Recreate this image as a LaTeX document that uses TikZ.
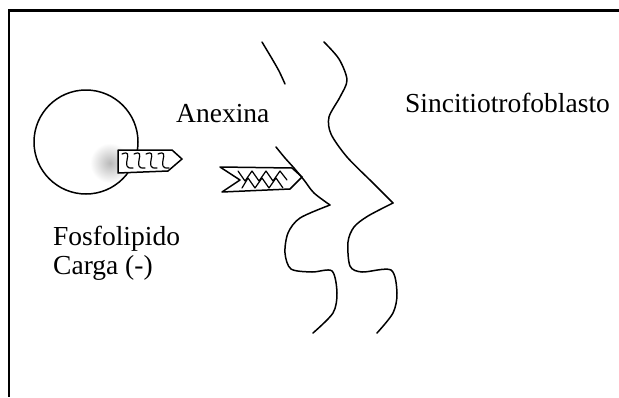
\documentclass[tikz,border=0pt]{standalone}
\usepackage{fontspec}
\setmainfont{Liberation Serif}
\begin{document}
\begin{tikzpicture}[x=1pt,y=-1pt,
  ink/.style={line width=1.5pt,line join=round,line cap=round},
  thin ink/.style={line width=1.2pt,line join=round,line cap=round},
  label/.style={font=\fontsize{27.5}{30}\selectfont,anchor=base west,inner sep=0pt}]
\useasboundingbox (0,0) rectangle (619,397);
% frame: top and left edges only
\draw[line width=2.6pt] (619,10.5) -- (9,10.5) -- (9,397);

% phospholipid vesicle with charge shading
\shade[inner color=gray!55,outer color=white] (110,163) circle (20);
\draw[ink] (86,142) circle (52);

% annexin bound to the vesicle
\draw[ink,fill=white] (118,150) -- (172,150) -- (182,159) -- (168,171) -- (118,173) -- cycle;
\foreach \x in {122,134,146,158}{
  \draw[thin ink] (\x,154) .. controls (\x+14,148) and (\x-4,170) .. (\x+11,168);
}

% free annexin
\draw[ink,fill=white] (220,167) -- (292,168) -- (302,177) -- (290,189) -- (222,192) -- (240,180) -- cycle;
\draw[thin ink] (238,171) -- (245,181) -- (252,171) -- (259,181) -- (266,171) -- (273,181) -- (280,171) -- (287,180);
\draw[thin ink] (242,188) -- (248,178) -- (255,188) -- (262,178) -- (269,188) -- (276,178) -- (283,188);

% syncytiotrophoblast membranes
\draw[ink] plot[smooth] coordinates {(262,42) (271,57) (279,71) (285,84)};
\draw[ink] plot[smooth] coordinates {(276,147) (285,158) (294,168) (304,180) (314,193) (330,205)};
\draw[ink] plot[smooth] coordinates {(330,205) (300,218) (288,233) (285,253) (291,269) (312,272) (332,271) (337,293) (333,313) (313,333)};
\draw[ink] plot[smooth] coordinates {(324,42) (339,59) (347,80) (340,97) (329,117) (331,134) (347,157) (373,183) (393,203)};
\draw[ink] plot[smooth] coordinates {(393,203) (368,216) (354,227) (348,242) (350,266) (362,272) (391,270) (397,293) (393,313) (377,333)};

% labels
\node[label] (anx) at (176,122) {Anexina};
\node[label] (sinc) at (405,112) {Sincitiotrofoblasto};
\node[label] (fos) at (53,245) {Fosfolipido};
\node[label] (carga) at (53,274) {Carga (-)};
\end{tikzpicture}
\end{document}
